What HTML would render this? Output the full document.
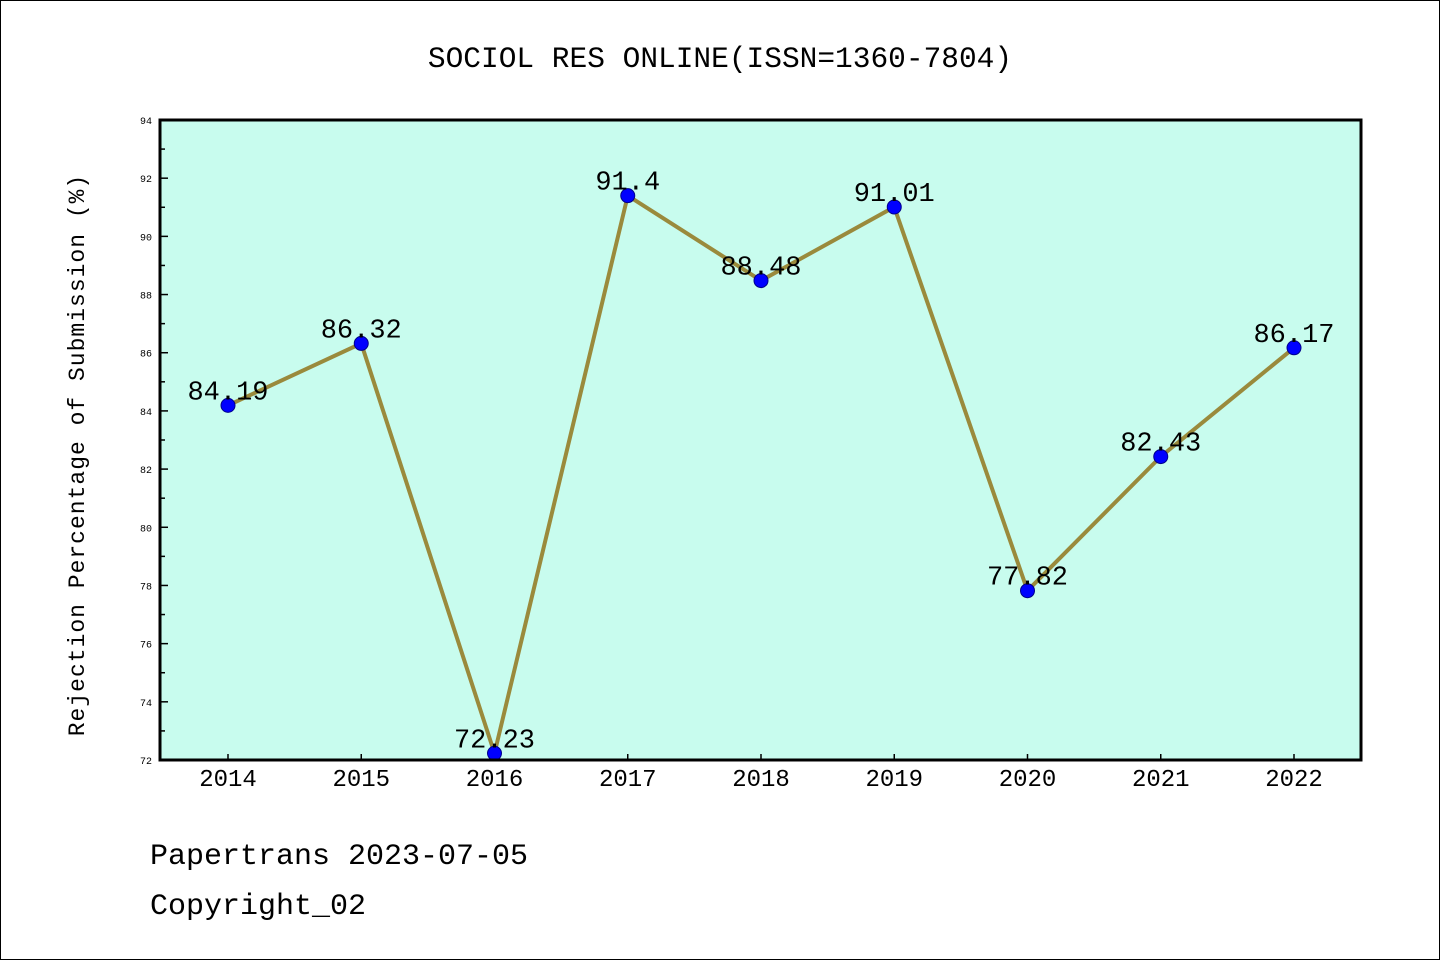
<!DOCTYPE html>
<html><head><meta charset="utf-8"><style>
body{margin:0;background:#fff}
svg text{font-family:"Liberation Mono","WenQuanYi Zen Hei",monospace}
</style></head><body>
<svg id="c" width="1440" height="960" xmlns="http://www.w3.org/2000/svg">
<rect x="0.5" y="0.5" width="1439" height="959" fill="#fff" stroke="#000"/>
<text x="720" y="67" font-size="29.5" text-anchor="middle">SOCIOL RES ONLINE(ISSN=1360-7804)</text>
<rect x="160" y="120" width="1201" height="640" fill="#c8fcee"/>
<g id="ticks"></g>
<polyline id="line" fill="none" stroke="#9a8a3c" stroke-width="4"/>
<g id="pts"></g>
<rect x="160" y="120" width="1201" height="640" fill="none" stroke="#000" stroke-width="3"/>
<text transform="translate(84,455) rotate(-90)" font-size="23" text-anchor="middle" letter-spacing="1">Rejection Percentage of Submission (%)</text>
<text x="150" y="864" font-size="30">Papertrans 2023-07-05</text>
<text x="150" y="914" font-size="30">Copyright_02</text>
</svg>
<script>
const years=[2014,2015,2016,2017,2018,2019,2020,2021,2022];
const values=[84.19,86.32,72.23,91.4,88.48,91.01,77.82,82.43,86.17];
const labels=["84.19","86.32","72.23","91.4","88.48","91.01","77.82","82.43","86.17"];
const yTicks=[72,74,76,78,80,82,84,86,88,90,92,94];
const NS="http://www.w3.org/2000/svg";
const X=i=>228+i*133.25;
const Y=v=>760-(v-72)*(640/22);
function mk(t,a,p){const e=document.createElementNS(NS,t);for(const k in a)e.setAttribute(k,a[k]);p.appendChild(e);return e;}
const tg=document.getElementById('ticks');
for(let v=72;v<=94;v++){
  const major=v%2===0;
  const l=mk('line',{x1:160,x2:major?168:165,y1:Y(v),y2:Y(v),stroke:'#000','stroke-width':1.5},tg);
  
  
}
yTicks.forEach(v=>{
  const t=mk('text',{x:152,y:Y(v)+4,'font-size':10,'text-anchor':'end'},tg);
  t.textContent=v;
  
  
});
years.forEach((yr,i)=>{
  const l=mk('line',{x1:X(i),x2:X(i),y1:760,y2:754,stroke:'#000','stroke-width':1.5},tg);
  
  
  const t=mk('text',{x:X(i),y:786,'font-size':24,'text-anchor':'middle'},tg);
  t.textContent=yr;
  
  
});
document.getElementById('line').setAttribute('points',values.map((v,i)=>X(i)+','+Y(v)).join(' '));
const pg=document.getElementById('pts');
values.forEach((v,i)=>{
  const c=mk('circle',{cx:X(i),cy:Y(v),r:7,fill:'#0000ff',stroke:'#00008b','stroke-width':1},pg);
  
  
  const t=mk('text',{x:X(i),y:Y(v)-6,'font-size':27,'text-anchor':'middle'},pg);
  t.textContent=labels[i];
  
  
});
</script>
</body></html>
